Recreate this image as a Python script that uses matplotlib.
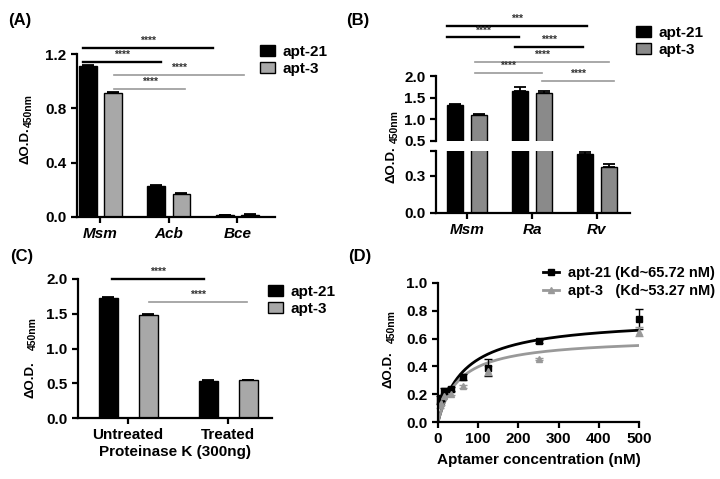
import numpy as np
import matplotlib
matplotlib.use("Agg")
import matplotlib.pyplot as plt
from matplotlib.patches import Patch
from matplotlib.lines import Line2D

plt.rcParams['font.family'] = ['Liberation Sans', 'DejaVu Sans']
plt.rcParams['font.weight'] = 'bold'
plt.rcParams['axes.labelweight'] = 'bold'
plt.rcParams['axes.linewidth'] = 1.6
plt.rcParams['xtick.major.width'] = 1.6
plt.rcParams['ytick.major.width'] = 1.6
plt.rcParams['xtick.major.size'] = 4
plt.rcParams['ytick.major.size'] = 4
plt.rcParams['xtick.labelsize'] = 11
plt.rcParams['ytick.labelsize'] = 11

# ---- data ----
# (A)
a_cats = ['Msm', 'Acb', 'Bce']
a_apt21 = [1.11, 0.228, 0.012]
a_apt21_err = [0.01, 0.01, 0.004]
a_apt3 = [0.915, 0.167, 0.018]
a_apt3_err = [0.006, 0.008, 0.005]

# (B)
b_cats = ['Msm', 'Ra', 'Rv']
b_apt21 = [1.33, 1.66, 0.477]
b_apt21_err = [0.02, 0.08, 0.014]
b_apt3 = [1.1, 1.6, 0.372]
b_apt3_err = [0.012, 0.05, 0.022]

# (C)
c_cats = ['Untreated', 'Treated']
c_apt21 = [1.73, 0.53]
c_apt21_err = [0.015, 0.01]
c_apt3 = [1.48, 0.54]
c_apt3_err = [0.02, 0.01]

# (D)
conc = [3.9, 7.8, 15.6, 31.25, 62.5, 125, 250, 500]
d_apt21 = [0.157, 0.17, 0.224, 0.24, 0.325, 0.39, 0.58, 0.74]
d_apt21_err = [0.03, 0.02, 0.02, 0.015, 0.02, 0.06, 0.01, 0.07]
d_apt3 = [0.12, 0.14, 0.19, 0.205, 0.258, 0.37, 0.453, 0.65]
d_apt3_err = [0.02, 0.02, 0.01, 0.01, 0.01, 0.03, 0.01, 0.03]
kd21, bmax21 = 65.72, 0.747
kd3, bmax3 = 53.27, 0.609

# significance brackets: (x0, x1, y, label, colour)
a_sig = [(-0.25, 1.64, 1.244, '****', 'k'), (-0.25, 0.89, 1.141, '****', 'k'),
         (0.2, 2.1, 1.045, '****', '#999999'), (0.2, 1.24, 0.942, '****', '#999999')]
b_sig = [(-0.31, 1.85, 3.16, '***', 'k'), (-0.31, 0.8, 2.89, '****', 'k'),
         (0.74, 1.78, 2.68, '****', 'k'), (0.12, 2.18, 2.33, '****', '#999999'),
         (0.12, 1.15, 2.08, '****', '#999999'), (1.15, 2.26, 1.89, '****', '#999999')]
c_sig = [(-0.16, 0.76, 2.0, '****', 'k'), (0.21, 1.19, 1.67, '****', '#999999')]

fig = plt.figure(figsize=(7.2, 4.79), dpi=100)


def style(ax):
    for s in ['top', 'right']:
        ax.spines[s].set_visible(False)
    ax.tick_params(direction='out')


def bars(ax, x, v1, e1, v2, e2, off, w, gray, lo=None):
    ax.bar(x - off, v1, w, color='black', edgecolor='black', linewidth=1)
    ax.bar(x + off, v2, w, color=gray, edgecolor='black', linewidth=1)
    x, v1, e1, v2, e2 = map(np.asarray, (x, v1, e1, v2, e2))
    k1 = np.ones(len(x), bool) if lo is None else v1 > lo
    k2 = np.ones(len(x), bool) if lo is None else v2 > lo
    ax.errorbar(x[k1] - off, v1[k1], yerr=[0 * e1[k1], e1[k1]], fmt='none', ecolor='black',
                capsize=4, elinewidth=1.3, capthick=1.3)
    ax.errorbar(x[k2] + off, v2[k2], yerr=[0 * e2[k2], e2[k2]], fmt='none', ecolor='black',
                capsize=4, elinewidth=1.3, capthick=1.3)


def sig(ax, items, dy):
    for x0, x1, y, lab, col in items:
        lw = 1.7 if col == 'k' else 1.2
        ax.plot([x0, x1], [y, y], color=col, lw=lw, clip_on=False)
        ax.text((x0 + x1) / 2, y + dy, lab, ha='center', va='bottom', fontsize=7.5, color='#333333', clip_on=False)


def ylab(ax, x, y1, y2):
    # "ΔO.D." followed by the smaller "450nm", both rotated
    ax.text(x, y1, 'ΔO.D.', rotation=90, transform=ax.transAxes, ha='center', va='bottom', fontsize=9.5)
    ax.text(x + 0.015, y2, '450nm', rotation=90, transform=ax.transAxes, ha='center', va='bottom', fontsize=7.5)


def bar_legend(x, y, gray):
    h = [Patch(facecolor='black', edgecolor='black'), Patch(facecolor=gray, edgecolor='black')]
    fig.legend(h, ['apt-21', 'apt-3'], loc='upper left', bbox_to_anchor=(x / 720, 1 - y / 479),
               frameon=False, fontsize=11, handlelength=1.0, handleheight=0.7,
               labelspacing=0.2, handletextpad=0.5, borderpad=0, borderaxespad=0)


# (A)
axA = fig.add_axes([77 / 720, 1 - 217 / 479, 198 / 720, 163 / 479])
style(axA)
xa = np.arange(len(a_cats))
bars(axA, xa, a_apt21, a_apt21_err, a_apt3, a_apt3_err, 0.185, 0.26, '#a8a8a8')
axA.set_xlim(-0.34, 2.55)
axA.set_ylim(0, 1.2)
axA.set_yticks([0, 0.4, 0.8, 1.2])
axA.set_yticklabels(['0.0', '0.4', '0.8', '1.2'])
axA.set_xticks(xa)
axA.set_xticklabels(a_cats, style='italic', fontsize=11)
sig(axA, a_sig, 0.015)
ylab(axA, -0.258, 0.325, 0.552)
bar_legend(260, 45, '#a8a8a8')

# (B) broken axis
axBu = fig.add_axes([436 / 720, 1 - 141 / 479, 194 / 720, 65 / 479])
axBl = fig.add_axes([436 / 720, 1 - 213 / 479, 194 / 720, 62 / 479])
xb = np.arange(len(b_cats))
style(axBu)
style(axBl)
bars(axBu, xb, b_apt21, b_apt21_err, b_apt3, b_apt3_err, 0.185, 0.25, '#8a8a8a', lo=0.5)
bars(axBl, xb, b_apt21, b_apt21_err, b_apt3, b_apt3_err, 0.185, 0.25, '#8a8a8a')
for ax in (axBu, axBl):
    ax.set_xlim(-0.48, 2.51)
axBu.spines['bottom'].set_visible(False)
axBu.set_xticks([])
axBu.set_ylim(0.5, 2.0)
axBu.set_yticks([0.5, 1.0, 1.5, 2.0])
axBl.set_ylim(0, 0.5)
axBl.set_yticks([0, 0.3, 0.5])
axBl.set_yticklabels(['0.0', '0.3', ''])
axBl.set_xticks(xb)
axBl.set_xticklabels(b_cats, style='italic', fontsize=11)
sig(axBu, b_sig, 0.04)
ylab(axBl, -0.227, 0.49, 1.13)
bar_legend(636, 26, '#8a8a8a')

# (C)
axC = fig.add_axes([78 / 720, 1 - 418 / 479, 194 / 720, 139 / 479])
style(axC)
xc = np.arange(len(c_cats))
bars(axC, xc, c_apt21, c_apt21_err, c_apt3, c_apt3_err, 0.2, 0.19, '#a8a8a8')
axC.set_xlim(-0.5, 1.44)
axC.set_ylim(0, 2.0)
axC.set_yticks([0, 0.5, 1.0, 1.5, 2.0])
axC.set_xticks(xc)
axC.set_xticklabels(c_cats, fontsize=11)
axC.set_xlabel('Proteinase K (300ng)', fontsize=11, labelpad=2)
sig(axC, c_sig, 0.03)
ylab(axC, -0.247, 0.145, 0.489)
bar_legend(268, 285, '#a8a8a8')

# (D)
axD = fig.add_axes([438 / 720, 1 - 422 / 479, 201 / 720, 139 / 479])
style(axD)
xf = np.linspace(0, 500, 300)
axD.plot(xf, bmax21 * xf / (kd21 + xf), color='black', lw=2)
axD.plot(xf, bmax3 * xf / (kd3 + xf), color='#999999', lw=2)
axD.errorbar(conc, d_apt21, yerr=d_apt21_err, fmt='s', color='black', ms=5, capsize=3, elinewidth=1, clip_on=False)
axD.errorbar(conc, d_apt3, yerr=d_apt3_err, fmt='^', color='#999999', ms=4, capsize=3, elinewidth=1, clip_on=False)
axD.set_xlim(0, 500)
axD.set_ylim(0, 1.0)
axD.set_xticks(range(0, 501, 100))
axD.set_yticks(np.arange(0, 1.01, 0.2))
axD.set_yticklabels(['0.0', '0.2', '0.4', '0.6', '0.8', '1.0'])
axD.set_xlabel('Aptamer concentration (nM)', fontsize=11, labelpad=5)
ylab(axD, -0.244, 0.245, 0.568)
hD = [Line2D([], [], color='black', marker='s', ms=4, lw=2),
      Line2D([], [], color='#999999', marker='^', ms=4, lw=2)]
fig.legend(hD, ['apt-21 (Kd~65.72 nM)', 'apt-3   (Kd~53.27 nM)'], loc='upper left',
           bbox_to_anchor=(543 / 720, 1 - 266 / 479), frameon=False, fontsize=10.5,
           handlelength=1.1, labelspacing=0.25, handletextpad=0.6, borderpad=0, borderaxespad=0)

# panel letters
for lab, x, y in [('(A)', 20, 20), ('(B)', 358, 20), ('(C)', 22, 257), ('(D)', 360, 257)]:
    fig.text(x / 720, 1 - y / 479, lab, ha='center', va='center', fontsize=12)

fig.savefig('out.png', dpi=100)
